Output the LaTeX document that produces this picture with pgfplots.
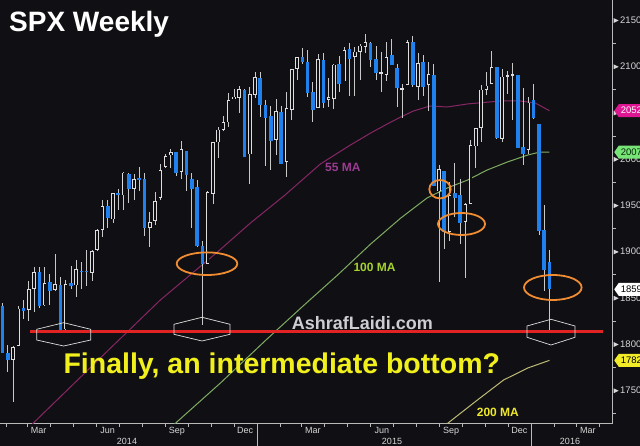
\documentclass[border=0pt]{standalone}
\usepackage{pgfplots}
\pgfplotsset{compat=1.18}
\usepackage{pgfplotstable}
\usepackage{fontspec}
\setmainfont{Liberation Sans}
\setsansfont{Liberation Sans}
\usetikzlibrary{shapes.symbols}

\definecolor{bg}{RGB}{16,16,20}
\definecolor{candleblue}{RGB}{32,128,236}
\definecolor{candlewhite}{RGB}{222,222,222}
\definecolor{wick}{RGB}{200,200,200}
\definecolor{axisgray}{RGB}{185,185,185}
\definecolor{labelgray}{RGB}{215,215,215}
\definecolor{maA}{RGB}{135,38,100}
\definecolor{maB}{RGB}{128,172,98}
\definecolor{maC}{RGB}{190,186,118}
\definecolor{redline}{RGB}{225,35,35}
\definecolor{ring}{RGB}{240,140,50}
\definecolor{txtA}{RGB}{155,58,145}
\definecolor{txtB}{RGB}{165,210,45}
\definecolor{txtC}{RGB}{238,232,40}
\definecolor{bigyellow}{RGB}{242,240,28}
\definecolor{site}{RGB}{205,205,210}
\definecolor{tagmag}{RGB}{222,22,145}
\definecolor{taggreen}{RGB}{120,228,120}
\definecolor{tagyellow}{RGB}{242,236,40}

% weekly SPX candles, i = week (0 = week ending 24 Jan 2014): open high low close
\pgfplotstableread{
i o h l c
-1 1841.3 1850.8 1815.5 1838.7
0 1841.1 1844.5 1790.3 1790.3
1 1791.0 1798.8 1770.5 1782.6
2 1782.7 1798.0 1737.9 1797.0
3 1798.0 1841.6 1798.0 1838.6
4 1838.8 1847.5 1826.8 1836.3
5 1836.8 1867.9 1824.6 1859.4
6 1859.5 1883.6 1834.4 1878.0
7 1878.3 1883.6 1839.6 1841.1
8 1842.0 1883.9 1841.0 1866.5
9 1867.0 1875.9 1842.0 1857.6
10 1859.0 1897.3 1858.0 1865.1
11 1863.9 1872.5 1814.4 1815.7
12 1816.0 1869.6 1815.8 1864.9
13 1865.8 1884.9 1859.7 1863.4
14 1863.6 1891.3 1851.3 1881.1
15 1879.5 1889.1 1859.8 1878.5
16 1879.5 1902.2 1862.4 1877.9
17 1876.7 1901.3 1868.8 1900.5
18 1902.0 1924.0 1901.0 1923.6
19 1923.9 1955.6 1916.0 1949.4
20 1949.4 1955.6 1925.8 1936.2
21 1934.8 1963.9 1930.9 1962.9
22 1962.9 1968.2 1944.7 1961.0
23 1960.8 1985.6 1944.7 1985.4
24 1984.2 1984.9 1952.9 1967.6
25 1967.7 1983.9 1955.6 1978.2
26 1978.7 1991.4 1965.7 1978.3
27 1978.3 1984.6 1916.5 1925.2
28 1926.0 1942.9 1904.8 1931.6
29 1933.0 1964.0 1928.9 1955.1
30 1958.0 1994.8 1955.9 1988.4
31 1991.3 2005.0 1989.9 2003.4
32 2004.1 2011.2 1990.9 2007.7
33 2007.2 2007.2 1981.3 1985.5
34 1986.5 2019.3 1978.6 2010.4
35 2009.1 2009.1 1966.0 1982.9
36 1979.0 1985.2 1926.0 1967.9
37 1970.0 1977.0 1905.0 1906.1
38 1905.6 1912.0 1820.7 1886.8
39 1886.8 1965.3 1886.8 1964.6
40 1962.0 2018.2 1951.4 2018.1
41 2018.0 2034.3 2001.0 2031.9
42 2032.0 2046.2 2030.2 2039.8
43 2039.7 2071.5 2034.5 2063.5
44 2065.0 2075.8 2065.0 2067.6
45 2065.8 2079.5 2049.6 2075.4
46 2074.8 2075.8 2002.3 2002.3
47 2005.0 2077.9 1972.6 2070.7
48 2069.0 2093.6 2066.0 2088.8
49 2088.0 2093.6 2046.0 2058.2
50 2058.9 2064.4 1992.4 2044.8
51 2046.1 2056.9 1988.1 2019.4
52 2020.8 2064.6 2004.5 2051.8
53 2050.4 2057.6 1994.8 1995.0
54 1996.7 2072.4 1980.9 2055.5
55 2053.5 2097.0 2041.9 2097.0
56 2097.6 2110.6 2085.4 2110.3
57 2109.8 2119.6 2103.0 2104.5
58 2105.2 2117.5 2067.3 2071.3
59 2072.3 2083.5 2039.7 2053.4
60 2055.4 2113.9 2055.4 2108.1
61 2107.0 2114.9 2055.4 2061.0
62 2064.0 2088.0 2056.0 2067.0
63 2064.9 2102.6 2053.6 2102.1
64 2102.9 2111.9 2072.4 2081.2
65 2084.0 2120.9 2084.0 2117.7
66 2119.3 2125.9 2067.9 2108.3
67 2110.0 2120.9 2067.9 2116.1
68 2115.6 2123.9 2085.7 2122.7
69 2121.3 2134.7 2114.5 2126.1
70 2125.3 2126.2 2099.2 2107.4
71 2108.6 2121.9 2085.7 2092.8
72 2092.3 2115.4 2072.1 2094.1
73 2091.3 2126.6 2084.0 2110.0
74 2112.5 2129.9 2101.3 2101.5
75 2098.6 2102.7 2056.6 2076.8
76 2075.4 2081.3 2044.0 2076.6
77 2080.0 2129.0 2080.0 2126.6
78 2126.8 2132.8 2077.9 2079.7
79 2078.2 2114.2 2063.5 2103.8
80 2104.5 2112.7 2067.9 2077.6
81 2080.0 2105.3 2052.1 2091.5
82 2090.6 2102.7 1970.9 1970.9
83 1965.2 1993.5 1867.0 1988.9
84 1986.7 1986.7 1903.0 1921.2
85 1921.5 1975.0 1911.0 1961.1
86 1963.0 1996.0 1937.9 1958.0
87 1960.8 1979.0 1908.8 1931.3
88 1931.9 1953.0 1871.9 1951.4
89 1951.4 2020.9 1951.4 2014.9
90 2013.7 2033.5 1990.7 2033.1
91 2033.5 2079.7 2018.9 2075.2
92 2075.1 2094.3 2069.3 2079.4
93 2080.8 2116.5 2080.8 2099.2
94 2100.0 2100.0 2022.0 2023.0
95 2022.0 2097.0 2019.0 2089.2
96 2090.0 2095.6 2070.0 2090.1
97 2090.9 2104.3 2042.4 2091.7
98 2090.4 2090.4 2012.4 2012.4
99 2013.4 2076.7 1993.3 2005.6
100 2010.3 2067.6 2005.9 2061.0
101 2063.5 2081.6 2043.6 2043.9
102 2038.2 2038.2 1918.5 1922.0
103 1923.3 1950.3 1857.8 1880.3
104 1888.7 1901.4 1812.3 1859.3
}\spx

% moving averages, d = days since 1 Jan 2014
\pgfplotstableread{
d v
49 1700.8
67 1714.9
156 1785.1
236 1847.8
312 1899.6
356 1931.0
402 1961.2
449 1994.7
489 2015.2
516 2028.2
538 2037.9
556 2045.5
573 2052.0
595 2057.4
618 2056.3
645 2059.6
689 2062.8
715 2062.8
735 2060.6
754 2052.3
}\maFF

\pgfplotstableread{
d v
242 1704.1
258 1716.0
316 1758.1
378 1805.6
426 1841.3
472 1874.8
516 1908.3
556 1936.3
591 1958.0
618 1968.8
645 1977.4
671 1988.2
698 1996.9
725 2004.4
740 2007.4
754 2007.6
}\maH

\pgfplotstableread{
d v
609 1709.5
619 1714.9
658 1739.7
693 1761.4
725 1774.3
754 1782.6
}\maHH

\newcommand{\tri}{\tikz[baseline=-0.6ex]\fill[labelgray] (0,-2.4pt) -- (5pt,0) -- (0,2.4pt) -- cycle;\hspace{1.5pt}}

\tikzset{tag/.style={signal, signal to=west, signal pointer angle=110, anchor=west,
  inner xsep=2pt, inner ysep=1pt, minimum height=13pt, font=\fontsize{9.5}{10}\selectfont}}

\begin{document}
\begin{tikzpicture}[x=1pt,y=1pt]
\useasboundingbox (0,0) rectangle (640,446);
\clip (0,0) rectangle (640,446);
\fill[bg] (0,0) rectangle (640,446);
\begin{axis}[
  at={(0pt,22.7pt)}, anchor=south west,
  scale only axis, width=612.5pt, height=423.3pt,
  xmin=22.6, xmax=837.9, ymin=1714.6, ymax=2171.9,
  axis x line*=bottom, axis y line*=right,
  axis line style={-, draw=axisgray, line width=0.8pt},
  tick align=outside, major tick length=0pt, minor tick length=3.5pt,
  tick style={draw=axisgray, line width=0.7pt},
  ytick={1750,1800,...,2150},
  minor ytick={1725,1775,...,2175},
  yticklabel={\tri\pgfmathprintnumber[1000 sep={},assume math mode=true]{\tick}},
  yticklabel style={font=\fontsize{9.5}{12}\selectfont, text=labelgray, anchor=west, inner sep=0pt, xshift=1pt},
  xtick={74,166,258,349,439,531,623,714,805},
  xticklabels={Mar,Jun,Sep,Dec,Mar,Jun,Sep,Dec,Mar},
  minor xtick={31,59,90,120,151,181,212,243,273,304,334,365,396,424,455,485,516,546,577,608,638,669,699,730,761,790,821},
  xticklabel style={font=\fontsize{9}{11}\selectfont, text=labelgray, inner sep=0pt, yshift=-3.8pt},
]
% moving averages
\addplot[maA, line width=1pt] table[x=d, y=v] {\maFF};
\addplot[maB, line width=1pt] table[x=d, y=v] {\maH};
\addplot[maC, line width=1pt] table[x=d, y=v] {\maHH};
% wicks
\addplot[draw=none, forget plot, error bars/.cd, y dir=both, y explicit, error mark=none,
  error bar style={draw=wick, line width=0.8pt, solid}]
  table[x expr=26+7*\thisrow{i}, y expr=(\thisrow{h}+\thisrow{l})/2,
        y error expr=(\thisrow{h}-\thisrow{l})/2] {\spx};
% falling weeks: blue bodies
\addplot[draw=none, forget plot, error bars/.cd, y dir=both, y explicit, error mark=none,
  error bar style={draw=candleblue, line width=3.6pt, line cap=butt, solid}]
  table[x expr=26+7*\thisrow{i}, y expr=(\thisrow{o}+\thisrow{c})/2,
        y error expr={(\thisrow{o}>\thisrow{c})*max((\thisrow{o}-\thisrow{c})/2,0.6)}] {\spx};
% rising weeks: hollow bodies
\addplot[draw=none, forget plot, error bars/.cd, y dir=both, y explicit, error mark=none,
  error bar style={draw=candlewhite, line width=3.6pt, line cap=butt, solid}]
  table[x expr=26+7*\thisrow{i}, y expr=(\thisrow{o}+\thisrow{c})/2,
        y error expr={(1-(\thisrow{o}>\thisrow{c}))*max((\thisrow{c}-\thisrow{o})/2,0.6)}] {\spx};
\addplot[draw=none, forget plot, error bars/.cd, y dir=both, y explicit, error mark=none,
  error bar style={draw=bg, line width=2pt, line cap=butt, solid}]
  table[x expr=26+7*\thisrow{i}, y expr=(\thisrow{o}+\thisrow{c})/2,
        y error expr={(1-(\thisrow{o}>\thisrow{c}))*max((\thisrow{c}-\thisrow{o})/2-0.9,0)}] {\spx};
\coordinate (y15) at (axis cs:365,1714.6);
\coordinate (y16) at (axis cs:730,1714.6);
\coordinate (t1) at (axis cs:837.9,2052.3);
\coordinate (t2) at (axis cs:837.9,2007.6);
\coordinate (t3) at (axis cs:837.9,1859.3);
\coordinate (t4) at (axis cs:837.9,1782.6);
\end{axis}
% year row
\draw[axisgray, line width=0.7pt] (y15) -- ++(0,-23);
\draw[axisgray, line width=0.7pt] (y16) -- ++(0,-23);
\node[anchor=base, inner sep=0pt, text=labelgray, font=\fontsize{9}{11}\selectfont] at (127,1.5) {2014};
\node[anchor=base, inner sep=0pt, text=labelgray, font=\fontsize{9}{11}\selectfont] at (392,1.5) {2015};
\node[anchor=base, inner sep=0pt, text=labelgray, font=\fontsize{9}{11}\selectfont] at (570,1.5) {2016};
% value tags
\node[tag, fill=tagmag, text=white] at ([xshift=1.5pt]t1) {2052.3};
\node[tag, fill=taggreen, text=black!85!green] at ([xshift=1.5pt]t2) {2007.6};
\node[tag, fill=white, text=black] at ([xshift=1.5pt]t3) {1859.3};
\node[tag, fill=tagyellow, text=black] at ([xshift=1.5pt]t4) {1782.6};
% annotations
\draw[redline, line width=3pt] (30,114) -- (603,114);
\begin{scope}[candlewhite, line width=0.7pt]
\draw (63.7,123.3) -- (36.7,116.7) -- (36.7,106) -- (63.7,100) -- (90.7,106) -- (90.7,116.7) -- cycle;
\draw (202,128.7) -- (174,121.7) -- (174,111.7) -- (202,105) -- (230,111.7) -- (230,121.7) -- cycle;
\draw (551,126.7) -- (527,120) -- (527,108.7) -- (551,101) -- (575,108.7) -- (575,120) -- cycle;
\end{scope}
\begin{scope}[ring, line width=1.8pt]
\draw (207,182.3) ellipse [x radius=30.3, y radius=11.3];
\draw (440,256.8) ellipse [x radius=10.7, y radius=9.2];
\draw (461.5,222) ellipse [x radius=23.5, y radius=11];
\draw (552.8,158.5) ellipse [x radius=28.8, y radius=12.5];
\end{scope}
\node[anchor=base west, inner sep=0pt, text=white, font=\fontsize{28}{30}\selectfont\bfseries] at (9,414.3) {SPX Weekly};
\node[anchor=base west, inner sep=0pt, text=txtA, font=\fontsize{12}{14}\selectfont\bfseries] at (325,274.3) {55 MA};
\node[anchor=base west, inner sep=0pt, text=txtB, font=\fontsize{12}{14}\selectfont\bfseries] at (353.3,174.3) {100 MA};
\node[anchor=base west, inner sep=0pt, text=txtC, font=\fontsize{12}{14}\selectfont\bfseries] at (476.7,29.3) {200 MA};
\node[anchor=base west, inner sep=0pt, text=site, font=\fontsize{18}{20}\selectfont\bfseries] at (291.7,116.7) {AshrafLaidi.com};
\node[anchor=base west, inner sep=0pt, text=bigyellow, font=\fontsize{28.5}{30}\selectfont\bfseries] at (63.3,72.7) {Finally, an intermediate bottom?};
\end{tikzpicture}
\end{document}
